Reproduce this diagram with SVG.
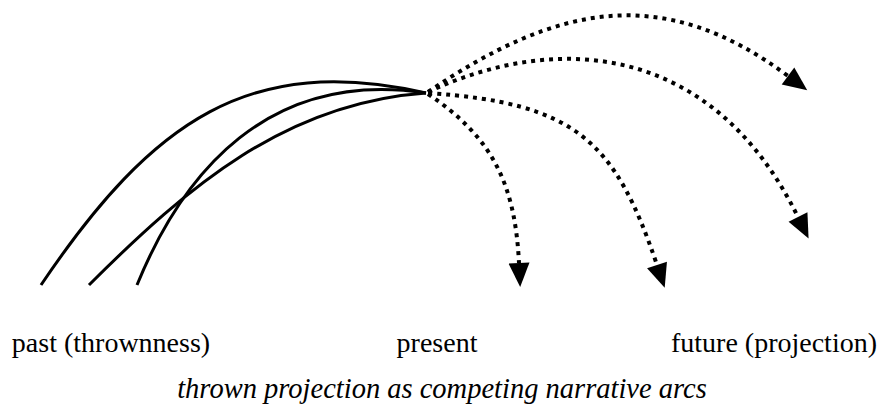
<svg xmlns="http://www.w3.org/2000/svg" width="884" height="415" viewBox="0 0 884 415">
<style>
.solid{fill:none;stroke:#000;stroke-width:3}
.dot{fill:none;stroke:#000;stroke-width:4;stroke-dasharray:4 5}
.lbl{font-family:"Liberation Serif","Times New Roman",serif;font-size:28px;fill:#000;text-anchor:middle}
.cap{font-style:italic;font-size:28.5px}
</style>
<defs>
<marker id="ah" markerUnits="userSpaceOnUse" markerWidth="24" markerHeight="21" refX="0" refY="10.5" orient="auto" viewBox="0 0 24 21" overflow="visible">
<path d="M0,0 L24,10.5 L0,21 Z" fill="#000"/>
</marker>
</defs>
<rect width="884" height="415" fill="#fff"/>
<g id="connectors">
<path class="solid" d="M41,285 C153,119 250.5,53.4 426,93"/>
<path class="solid" d="M89,285 C188,186 286,102.8 426,93"/>
<path class="solid" d="M137,285 C182.6,173.4 267.6,69 426,93"/>
<path class="dot" marker-end="url(#ah)" d="M428,92 C556,5 662,-18 788,76"/>
<path class="dot" marker-end="url(#ah)" d="M428,92 C561,30 714,46 798,217"/>
<path class="dot" marker-end="url(#ah)" d="M428,93 C576,103 615,141 657,265"/>
<path class="dot" marker-end="url(#ah)" d="M428,94 C492,137 515,183 519,263"/>
</g>
<g id="past"><text class="lbl" x="111" y="352">past (thrownness)</text></g>
<g id="present"><text class="lbl" x="437" y="352">present</text></g>
<g id="future"><text class="lbl" x="774" y="352">future (projection)</text></g>
<g id="caption"><text class="lbl cap" x="442" y="398">thrown projection as competing narrative arcs</text></g>
</svg>
